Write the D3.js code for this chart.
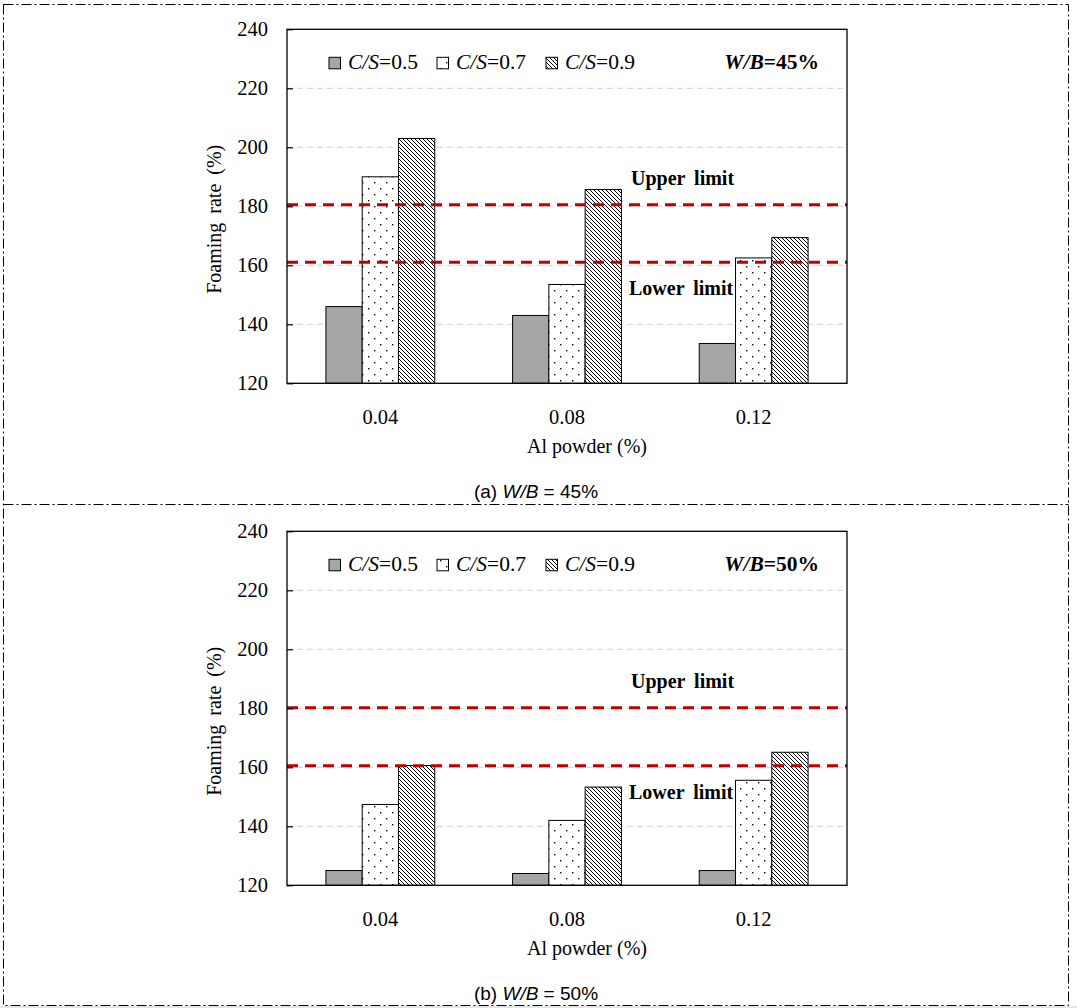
<!DOCTYPE html>
<html><head><meta charset="utf-8">
<script src="https://cdn.jsdelivr.net/npm/d3@7"></script>
<style>body{margin:0;background:#fff}svg{display:block}</style>
</head><body>
<script>
// ---- data ----
const categories = ["0.04", "0.08", "0.12"];
const seriesNames = ["0.5", "0.7", "0.9"];
const yTicks = [120, 140, 160, 180, 200, 220, 240];
const gridTicks = [140, 160, 180, 200, 220];
// Panel (a) W/B = 45%
const a_cs05 = [146, 143, 133.5];
const a_cs07 = [190, 153.5, 162.5];
const a_cs09 = [203, 185.7, 169.4];
const a_limits = [180.5, 161];
// Panel (b) W/B = 50%
const b_cs05 = [125, 124, 125];
const b_cs07 = [147.4, 142, 155.6];
const b_cs09 = [160.6, 153.3, 165.1];
const b_limits = [180.2, 160.5];
const limitLabels = ["Upper limit", "Lower limit"];

const W = 1077, H = 1008;
const serif = "'Liberation Serif','Times New Roman',serif";
const sans = "'Liberation Sans',Arial,sans-serif";
const svg = d3.select("body").append("svg").attr("width", W).attr("height", H);
svg.append("rect").attr("width", W).attr("height", H).attr("fill", "#fff");
svg.append("rect").attr("x", 0).attr("y", 1006).attr("width", W).attr("height", 2).attr("fill", "#e6e6e6");

const defs = svg.append("defs");
const pd = defs.append("pattern").attr("id", "dots").attr("patternUnits", "userSpaceOnUse")
  .attr("width", 12).attr("height", 12);
pd.append("rect").attr("width", 12).attr("height", 12).attr("fill", "#fff");
pd.append("rect").attr("x", 2).attr("y", 2).attr("width", 1.4).attr("height", 1.4).attr("fill", "#000");
pd.append("rect").attr("x", 8).attr("y", 8).attr("width", 1.4).attr("height", 1.4).attr("fill", "#000");
const ph = defs.append("pattern").attr("id", "hatch").attr("patternUnits", "userSpaceOnUse")
  .attr("width", 4).attr("height", 4);
ph.append("rect").attr("width", 4).attr("height", 4).attr("fill", "#fff");
ph.append("path").attr("d", "M-1,-1L5,5M-1,3L1,5M3,-1L5,1").attr("stroke", "#000").attr("stroke-width", 1);
const fills = ["#a6a6a6", "url(#dots)", "url(#hatch)"];

// outer frame
const dashdot = "10,3,2,3";
svg.append("rect").attr("x", 3.5).attr("y", 4.5).attr("width", 1065).attr("height", 1001)
  .attr("fill", "none").attr("stroke", "#000").attr("stroke-width", 1).attr("stroke-dasharray", dashdot);
svg.append("line").attr("x1", 3.5).attr("x2", 1068.5).attr("y1", 504.5).attr("y2", 504.5)
  .attr("stroke", "#000").attr("stroke-width", 1).attr("stroke-dasharray", dashdot);

function drawPanel(top, series, limits, letter, wb) {
  const left = 287, right = 847, ph = 354;
  const g = svg.append("g");
  const y = d3.scaleLinear().domain([120, 240]).range([top + ph, top]);
  const x = d3.scaleBand().domain(categories).range([left, right]).paddingInner(0.417).paddingOuter(0.2085);
  const xs = d3.scaleBand().domain(seriesNames).range([0, x.bandwidth()]);

  // gridlines
  g.selectAll(".grid").data(gridTicks).join("line")
    .attr("x1", left).attr("x2", right - 2).attr("y1", d => y(d)).attr("y2", d => y(d))
    .attr("stroke", "#d9d9d9").attr("stroke-width", 1.2).attr("stroke-dasharray", "6,4");

  // bars
  series.forEach((vals, si) => {
    g.selectAll(null).data(vals).join("rect")
      .attr("x", (d, i) => x(categories[i]) + xs(seriesNames[si]))
      .attr("y", d => y(d))
      .attr("width", xs.bandwidth())
      .attr("height", d => y(120) - y(d))
      .attr("fill", fills[si]).attr("stroke", "#000").attr("stroke-width", 1);
  });

  // limit lines
  g.selectAll(".lim").data(limits).join("line")
    .attr("x1", left).attr("x2", right).attr("y1", d => y(d)).attr("y2", d => y(d))
    .attr("stroke", "#c00000").attr("stroke-width", 3).attr("stroke-dasharray", "11,7");
  g.append("text").attr("x", 631).attr("y", y(limits[0]) - 20).text(limitLabels[0])
    .attr("font-family", serif).attr("font-size", 20).attr("font-weight", "bold").attr("word-spacing", 4);
  g.append("text").attr("x", 629).attr("y", y(limits[1]) + 33).text(limitLabels[1])
    .attr("font-family", serif).attr("font-size", 20).attr("font-weight", "bold").attr("word-spacing", 4);

  // frame
  g.append("rect").attr("x", left).attr("y", top).attr("width", right - left).attr("height", ph)
    .attr("fill", "none").attr("stroke", "#000").attr("stroke-width", 1.3);

  // y axis
  const ya = g.append("g").attr("transform", `translate(${left},0)`)
    .call(d3.axisLeft(y).tickValues(yTicks).tickSize(-6).tickPadding(19).tickFormat(d3.format("d")));
  ya.select(".domain").remove();
  ya.selectAll(".tick line").attr("stroke", "#000").attr("stroke-width", 1.2);
  ya.selectAll("text").attr("font-family", serif).attr("font-size", 20.5).attr("fill", "#000");

  // x axis
  const xa = g.append("g").attr("transform", `translate(0,${top + ph})`)
    .call(d3.axisBottom(x).tickSize(0).tickPadding(26));
  xa.select(".domain").remove();
  xa.selectAll("text").attr("font-family", serif).attr("font-size", 20.5).attr("fill", "#000");

  // axis titles
  g.append("text").attr("transform", `translate(221,${top + 190}) rotate(-90)`)
    .attr("text-anchor", "middle").attr("font-family", serif).attr("font-size", 20)
    .attr("word-spacing", 4).text("Foaming rate (%)");
  g.append("text").attr("x", 587).attr("y", top + ph + 70).attr("text-anchor", "middle")
    .attr("font-family", serif).attr("font-size", 20).text("Al powder (%)");

  // legend
  const legX = [329, 437, 546];
  seriesNames.forEach((s, i) => {
    g.append("rect").attr("x", legX[i]).attr("y", top + 28).attr("width", 11.5).attr("height", 11.5)
      .attr("fill", fills[i]).attr("stroke", "#000").attr("stroke-width", 1);
    const t = g.append("text").attr("x", legX[i] + 19).attr("y", top + 40)
      .attr("font-family", serif).attr("font-size", 21.5);
    t.append("tspan").attr("font-style", "italic").text("C/S");
    t.append("tspan").text("=" + s);
  });
  const wt = g.append("text").attr("x", 819).attr("y", top + 40).attr("text-anchor", "end")
    .attr("font-family", serif).attr("font-size", 21.5).attr("font-weight", "bold");
  wt.append("tspan").attr("font-style", "italic").text("W/B");
  wt.append("tspan").text("=" + wb);

  // caption
  const ct = g.append("text").attr("x", 536).attr("y", top + ph + 115).attr("text-anchor", "middle")
    .attr("font-family", sans).attr("font-size", 19);
  ct.append("tspan").text("(" + letter + ")  ");
  ct.append("tspan").attr("font-style", "italic").text("W/B");
  ct.append("tspan").text(" = " + wb);
}

drawPanel(29.3, [a_cs05, a_cs07, a_cs09], a_limits, "a", "45%");
drawPanel(531.3, [b_cs05, b_cs07, b_cs09], b_limits, "b", "50%");
</script>
</body></html>
